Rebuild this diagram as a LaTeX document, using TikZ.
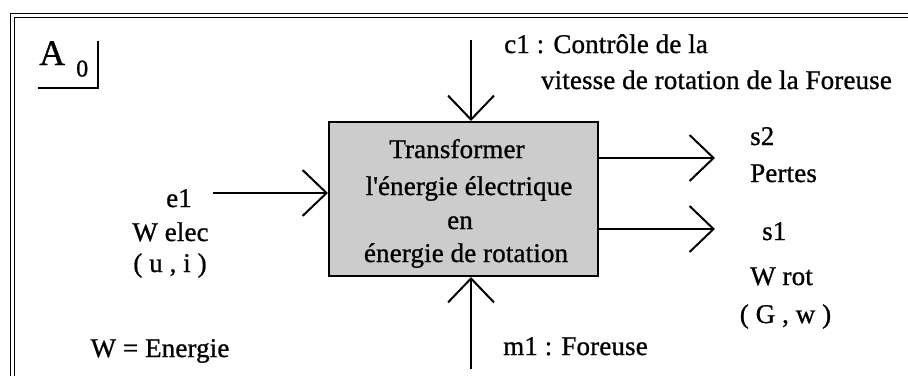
\documentclass[tikz,border=0pt]{standalone}
\usepackage{fontspec}
\setmainfont{Liberation Serif}[LetterSpace=0.5, FakeBold=0.9]
\usetikzlibrary{arrows.meta}
\begin{document}
\begin{tikzpicture}[x=1pt,y=-1pt,
  lbl/.style={inner sep=0pt, font=\fontsize{27}{30}\selectfont},
  lw/.style={lbl, anchor=base west},
  lc/.style={lbl, anchor=base},
  arr/.style={line width=2pt, -{Straight Barb[length=24pt,width=46pt,line width=2pt]}},
  fbox/.style={draw, line width=2pt, fill=black!20, minimum width=269pt, minimum height=154pt, inner sep=0pt}]
\useasboundingbox (0,0) rectangle (908,376);
% frame
\draw[line width=1.8pt] (10.5,376) -- (10.5,13.5) -- (908,13.5);
\draw[line width=1pt] (14,376) -- (14,17.5) -- (908,17.5);
% A0 tag
\node[inner sep=0pt, anchor=base west, font=\fontsize{36}{40}\selectfont] (tagA) at (39,65) {A};
\node[inner sep=0pt, anchor=base west, font=\fontsize{24}{26}\selectfont] (tag0) at (76,76.5) {0};
\draw[line width=1.5pt] (38,88) -- (98,88) -- (98,41);
% main box
\node[fbox] (box) at (463.5,199) {};
\node[lc] (t1) at (457,158) {Transformer};
\node[lc] (t2) at (469,195) {l\textquotesingle énergie électrique};
\node[lc] (t3) at (460,229) {en};
\node[lc] (t4) at (466,262) {énergie de rotation};
% arrow ends
\coordinate (c1a) at (471,40);
\coordinate (m1a) at (471,369);
\coordinate (e1a) at (213,193);
\coordinate (s2a) at (715,158);
\coordinate (s1a) at (715,229);
\draw[arr] (c1a) -- (c1a |- box.north);
\draw[arr] (m1a) -- (m1a |- box.south);
\draw[arr] (e1a) -- (e1a -| box.west);
\draw[arr] (s2a -| box.east) -- (s2a);
\draw[arr] (s1a -| box.east) -- (s1a);
% labels
\node[lw] (c1) at (504,53) {c1 : Contrôle de la};
\node[lbl, anchor=base east] (c1b) at (892,89) {vitesse de rotation de la Foreuse};
\node[lc] (e1) at (179,207) {e1};
\node[lc] (welec) at (170.5,241) {W elec};
\node[lc] (ui) at (170,272) {( u , i )};
\node[lc] (wen) at (160,357) {W = Energie};
\node[lw] (s2) at (750,145) {s2};
\node[lw] (pertes) at (750,182) {Pertes};
\node[lw] (s1) at (762,240) {s1};
\node[lw] (wrot) at (750,285) {W rot};
\node[lc] (gw) at (785.5,323) {( G , w )};
\node[lw] (m1) at (503,355) {m1 : Foreuse};
\end{tikzpicture}
\end{document}
